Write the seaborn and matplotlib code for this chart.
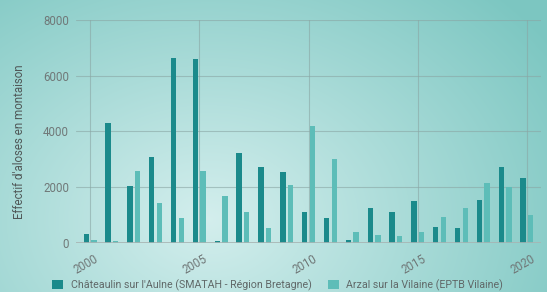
import numpy as np
import pandas as pd
import matplotlib
matplotlib.use("Agg")
import matplotlib.pyplot as plt
import matplotlib.transforms as mtrans
import seaborn as sns

years = list(range(2000, 2021))
chateaulin = [330, 4300, 2050, 3080, 6650, 6600, 60, 3230, 2740, 2540, 1120,
              880, 90, 1250, 1120, 1490, 570, 520, 1530, 2720, 2340]
arzal = [90, 60, 2580, 1450, 900, 2580, 1670, 1120, 540, 2060, 4200,
         3020, 390, 270, 240, 380, 920, 1240, 2150, 2000, 1000]
series_names = ["Châteaulin sur l'Aulne (SMATAH - Région Bretagne)",
                "Arzal sur la Vilaine (EPTB Vilaine)"]
tick_years = [2000, 2005, 2010, 2015, 2020]
y_ticks = [0, 2000, 4000, 6000, 8000]

df = pd.DataFrame({
    "year": years * 2,
    "value": chateaulin + arzal,
    "site": [series_names[0]] * len(years) + [series_names[1]] * len(years),
})

sns.set_theme(style="white")
plt.rcParams['font.family'] = ['Roboto', 'DejaVu Sans']

fig = plt.figure(figsize=(5.47, 2.92), dpi=100)

# background gradient
bg = fig.add_axes([0, 0, 1, 1], zorder=-10)
h, w = 292, 547
yy, xx = np.mgrid[0:h, 0:w]
cx, cy = 0.38 * w, 0.75 * h
d = np.sqrt(((xx - cx) / w) ** 2 + ((yy - cy) / h * 0.7) ** 2)
t = np.clip(d / 0.75, 0, 1)
light = np.array([0.83, 0.935, 0.93])
dark = np.array([0.49, 0.78, 0.76])
img = light[None, None, :] * (1 - t[..., None]) + dark[None, None, :] * t[..., None]
bg.imshow(img, aspect="auto", extent=[0, 1, 0, 1], origin="upper")
bg.axis("off")

ax = fig.add_axes([0.139, 0.168, 0.850, 0.764])
ax.set_facecolor("none")
palette = {series_names[0]: "#1b8a8b", series_names[1]: "#5dbdb8"}
sns.barplot(data=df, x="year", y="value", hue="site", palette=palette,
            width=0.7, gap=0.3, ax=ax, saturation=1, legend=True, zorder=3,
            linewidth=0, edgecolor="none")

ax.set_ylim(0, 8000)
ax.set_xlim(-0.64, 20.64)
ax.set_yticks(y_ticks)
ax.set_yticklabels([str(v) for v in y_ticks], color="#707878", fontsize=8.3)
pos = [years.index(y) for y in tick_years]
ax.set_xticks(pos)
ax.set_xticklabels([str(y) for y in tick_years], rotation=30, color="#707878",
                   fontsize=8.3, ha="center")
ax.tick_params(axis="y", length=0, pad=5)
ax.tick_params(axis="x", length=0, pad=7)
off = mtrans.ScaledTranslation(-4 / 100, 0, fig.dpi_scale_trans)
for lbl in ax.get_xticklabels():
    lbl.set_transform(lbl.get_transform() + off)
ax.grid(True, color="#8aa6a4", linewidth=0.8, alpha=0.6, zorder=0)
ax.set_axisbelow(True)
for s in ax.spines.values():
    s.set_visible(False)
ax.axhline(0, color="#a8b4b3", linewidth=1.2, zorder=4)
ax.set_xlabel("")
ax.set_ylabel("Effectif d'aloses en montaison", fontsize=8.3, color="#505858")
ax.yaxis.set_label_coords(-0.108, 0.455)

handles, labels = ax.get_legend_handles_labels()
ax.get_legend().remove()
leg = fig.legend(handles, labels, loc="center left",
                 bbox_to_anchor=(52 / 547, 1 - 285 / 292), ncol=2,
                 frameon=False, fontsize=7.7, handlelength=1.05, handleheight=1.05,
                 columnspacing=1.5, handletextpad=0.7, borderpad=0, borderaxespad=0)
for txt in leg.get_texts():
    txt.set_color("#606868")

fig.savefig("out.png", dpi=100)
